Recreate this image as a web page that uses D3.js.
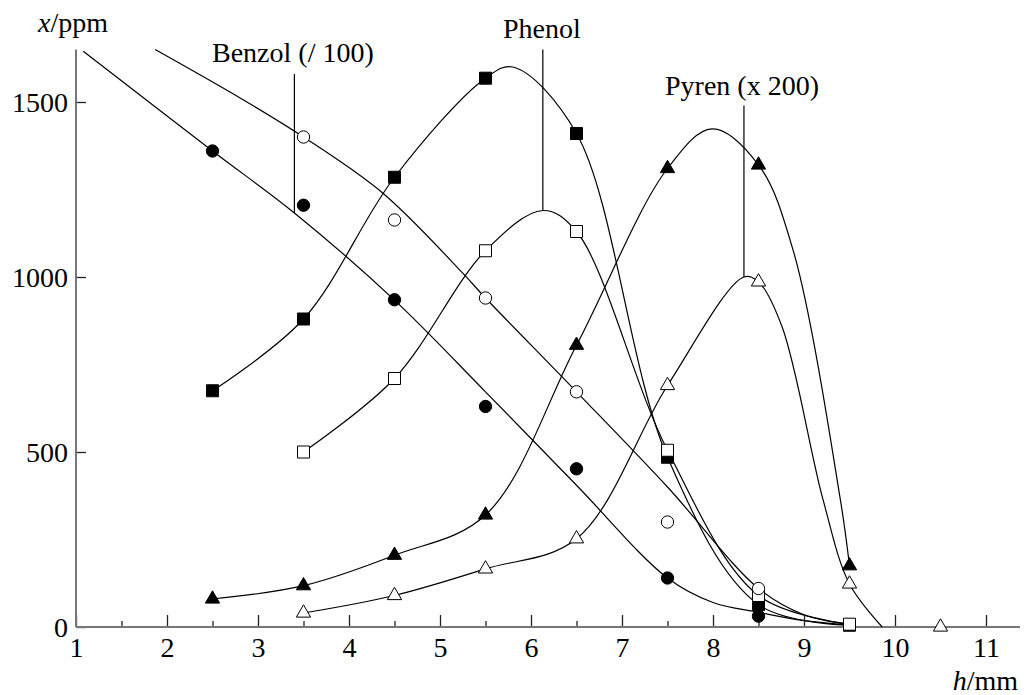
<!DOCTYPE html>
<html>
<head>
<meta charset="utf-8">
<script src="https://cdn.jsdelivr.net/npm/d3@7"></script>
<style>
  body { margin: 0; background: #fff; }
  svg { display: block; }
  svg text { font-family: "Liberation Serif", "Times New Roman", serif; }
</style>
</head>
<body>
<svg></svg>
<script>
// measured points [h in mm, x in ppm]
let benzolPts = [[2.5, 1360], [3.5, 1205], [4.5, 935], [5.5, 630], [6.5, 452], [7.5, 140], [8.5, 31]]
let openCirclePts = [[3.5, 1400], [4.5, 1163], [5.5, 940], [6.5, 672], [7.5, 300], [8.5, 110]]
let filledSquarePts = [[2.5, 675], [3.5, 880], [4.5, 1285], [5.5, 1568], [6.5, 1410], [7.5, 485], [8.5, 64], [9.5, 5]]
let phenolPts = [[3.5, 500], [4.5, 710], [5.5, 1075], [6.5, 1130], [7.5, 505], [8.5, 90], [9.5, 8]]
let filledTrianglePts = [[2.5, 80], [3.5, 118], [4.5, 205], [5.5, 320], [6.5, 805], [7.5, 1310], [8.5, 1320], [9.5, 175]]
let pyrenPts = [[3.5, 40], [4.5, 90], [5.5, 166], [6.5, 252], [7.5, 690], [8.5, 986], [9.5, 123], [10.5, 0]]

// fitted curves
let benzolCurve = [[1.08, 1645], [2.5, 1360], [3.4, 1183], [4.5, 934], [5.5, 672], [6.5, 405], [7.5, 140], [8, 70], [8.5, 42], [9, 18], [9.5, 6]]
let openCircleCurve = [[1.87, 1650], [2.84, 1506], [3.5, 1400], [4.37, 1240], [5.25, 1011], [5.5, 940], [6.5, 672], [7.5, 400], [8.5, 110], [9, 35], [9.5, 7]]
let filledSquareCurve = [[2.5, 675], [3.5, 880], [4.5, 1285], [5.5, 1568], [5.8, 1600], [6.5, 1410], [7.5, 485], [8.5, 64], [9.5, 5]]
let phenolCurve = [[3.5, 500], [4.5, 710], [5.5, 1075], [6.13, 1190], [6.5, 1130], [7.5, 505], [8.5, 90], [9.5, 8]]
let filledTriangleCurve = [[2.5, 80], [3.5, 118], [4.5, 205], [5.5, 320], [6.5, 805], [7.5, 1310], [7.99, 1423], [8.5, 1320], [8.88, 1077], [9.4, 363], [9.5, 175]]
let pyrenCurve = [[3.5, 40], [4.5, 90], [5.5, 166], [6.5, 252], [7.5, 690], [8.34, 1000], [8.5, 986], [8.76, 857], [9.21, 363], [9.5, 123], [9.86, 0]]

let xTicks = [1, 2, 3, 4, 5, 6, 7, 8, 9, 10, 11]
let xMinorTicks = [1.5, 2.5, 3.5, 4.5, 5.5, 6.5, 7.5, 8.5, 9.5, 10.5]
let yTicks = [0, 500, 1000, 1500]

// labels with pointer: text, pointer h, pointer bottom value, pointer top value
let labelNames = ['Benzol (/ 100)', 'Phenol', 'Pyren (x 200)']
let labelH = [3.4, 6.13, 8.34]
let labelBottom = [1183, 1190, 1000]
let labelTop = [1580, 1650, 1490]

let width = 1024
let height = 695
let serif = '"Liberation Serif", "Times New Roman", serif'

let svg = d3.select('svg').attr('width', width).attr('height', height)

let xScale = d3.scaleLinear().domain([1, 11]).range([76, 986])
let yScale = d3.scaleLinear().domain([0, 1500]).range([627, 102])

// axes
let xAxis = d3.axisBottom(xScale).tickValues(xTicks).tickSizeInner(-12).tickSizeOuter(0).tickFormat(d3.format('d'))
let xMinor = d3.axisBottom(xScale).tickValues(xMinorTicks).tickSizeInner(-6).tickSizeOuter(0).tickFormat('')
let yAxis = d3.axisLeft(yScale).tickValues(yTicks).tickSizeInner(-10).tickSizeOuter(0).tickFormat(d3.format('d'))

let gx = svg.append('g').attr('transform', 'translate(0,' + yScale(0) + ')').call(xAxis)
let gxm = svg.append('g').attr('transform', 'translate(0,' + yScale(0) + ')').call(xMinor)
let gy = svg.append('g').attr('transform', 'translate(' + xScale(1) + ',0)').call(yAxis)

svg.selectAll('.domain').remove()
;[gx, gxm, gy].forEach((g) => { g.attr('font-family', serif).attr('font-size', 28) })
svg.selectAll('.tick line').attr('stroke', '#222').attr('stroke-width', 1.3)
gx.selectAll('text').attr('y', 30).attr('dy', 0).attr('fill', '#000').style('font-family', serif)
gy.selectAll('text').attr('x', -8).attr('dy', '0.34em').attr('fill', '#000').style('font-family', serif)

svg.append('line')
  .attr('x1', xScale(1)).attr('x2', 1020)
  .attr('y1', yScale(0)).attr('y2', yScale(0))
  .attr('stroke', '#777').attr('stroke-width', 2)
svg.append('line')
  .attr('x1', xScale(1)).attr('x2', xScale(1))
  .attr('y1', yScale(0)).attr('y2', yScale(1650))
  .attr('stroke', '#777').attr('stroke-width', 2)

// axis titles
let yTitle = svg.append('text').attr('x', 38).attr('y', 32).attr('font-size', 28)
yTitle.append('tspan').attr('font-style', 'italic').text('x')
yTitle.append('tspan').text('/ppm')

let xTitle = svg.append('text').attr('x', 1018).attr('y', 690).attr('font-size', 28).attr('text-anchor', 'end')
xTitle.append('tspan').attr('font-style', 'italic').text('h')
xTitle.append('tspan').text('/mm')

// curves
let line = d3.line()
  .x((d) => { return xScale(d[0]) })
  .y((d) => { return yScale(d[1]) })
  .curve(d3.curveCatmullRom.alpha(0.5))

let curves = [benzolCurve, openCircleCurve, filledSquareCurve, phenolCurve, filledTriangleCurve, pyrenCurve]
svg.selectAll('path.curve')
  .data(curves)
  .enter()
  .append('path')
  .attr('class', 'curve')
  .attr('d', (d) => { return line(d) })
  .attr('fill', 'none')
  .attr('stroke', '#000')
  .attr('stroke-width', 1.2)

// label pointers
labelNames.forEach((name, i) => {
  svg.append('line')
    .attr('x1', xScale(labelH[i])).attr('x2', xScale(labelH[i]))
    .attr('y1', yScale(labelTop[i])).attr('y2', yScale(labelBottom[i]))
    .attr('stroke', '#000').attr('stroke-width', 1.2)
})
let labelX = [212, 503, 665]
let labelY = [62, 38, 95]
labelNames.forEach((name, i) => {
  svg.append('text').attr('x', labelX[i]).attr('y', labelY[i]).attr('font-size', 28).text(name)
})

// markers
let drawMarkers = (pts, type, fill) => {
  let sym = d3.symbol().type(type).size(type === d3.symbolTriangle ? 88 : (type === d3.symbolSquare ? 144 : 120))
  svg.append('g')
    .selectAll('path')
    .data(pts)
    .enter()
    .append('path')
    .attr('d', sym)
    .attr('transform', (d) => { return 'translate(' + xScale(d[0]) + ',' + yScale(d[1]) + ')' })
    .attr('fill', fill)
    .attr('stroke', '#000')
    .attr('stroke-width', 1)
}

drawMarkers(filledSquarePts, d3.symbolSquare, '#000')
drawMarkers(phenolPts, d3.symbolSquare, '#fff')
drawMarkers(openCirclePts, d3.symbolCircle, '#fff')
drawMarkers(benzolPts, d3.symbolCircle, '#000')
drawMarkers(filledTrianglePts, d3.symbolTriangle, '#000')
drawMarkers(pyrenPts, d3.symbolTriangle, '#fff')
</script>
</body>
</html>
